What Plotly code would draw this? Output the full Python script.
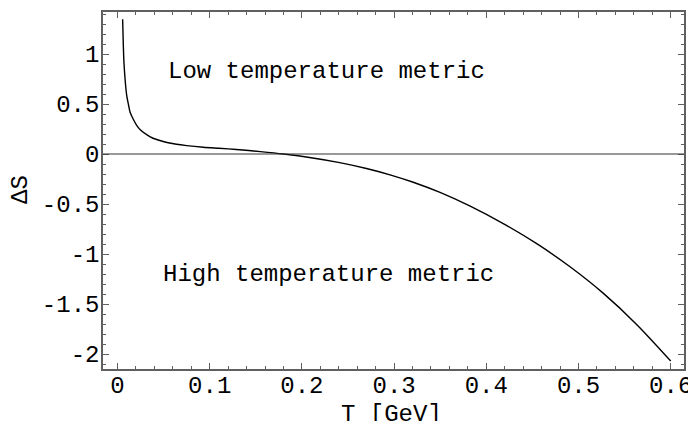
import plotly.graph_objects as go

# Data
T_GeV = [0.0056, 0.0063, 0.007, 0.0085, 0.010, 0.012, 0.0136, 0.017, 0.0208, 0.025,
         0.0317, 0.038, 0.046, 0.055, 0.064, 0.075, 0.093, 0.11, 0.129, 0.155,
         0.18, 0.21, 0.241, 0.27, 0.2956, 0.32, 0.3498, 0.382, 0.4184, 0.4547,
         0.4908, 0.527, 0.563, 0.60]
delta_S = [1.347, 1.10, 0.92, 0.72, 0.587, 0.49, 0.42, 0.35, 0.287, 0.24,
           0.193, 0.16, 0.135, 0.113, 0.097, 0.084, 0.068, 0.057, 0.045, 0.024,
           0.0, -0.037, -0.086, -0.145, -0.208, -0.280, -0.384, -0.519, -0.696, -0.897,
           -1.128, -1.394, -1.704, -2.07]

x_tickvals = [0, 0.1, 0.2, 0.3, 0.4, 0.5, 0.6]
x_ticktext = ["0", "0.1", "0.2", "0.3", "0.4", "0.5", "0.6"]
y_tickvals = [1, 0.5, 0, -0.5, -1, -1.5, -2]
y_ticktext = ["1", "0.5", "0", "-0.5", "-1", "-1.5", "-2"]

labels = ["Low temperature metric", "High temperature metric"]
label_T = [0.227, 0.229]
label_S = [0.825, -1.205]

x_title = "T [GeV]"
y_title = "ΔS"

FONT = "Courier New, Nimbus Mono PS, Liberation Mono, monospace"
FS = 24
frame_col = "#606060"

fig = go.Figure()
fig.add_trace(go.Scatter(
    x=T_GeV, y=delta_S, mode="lines",
    line=dict(color="black", width=1.4, shape="spline", smoothing=0.8),
    showlegend=False, hoverinfo="skip"))

fig.add_hline(y=0, line=dict(color="#333333", width=1.2))

for txt, tx, sy in zip(labels, label_T, label_S):
    fig.add_annotation(x=tx, y=sy, text=txt, showarrow=False,
                       font=dict(family=FONT, size=FS, color="black"),
                       xanchor="center", yanchor="middle")

fig.add_annotation(xref="paper", yref="paper", x=0.497, y=0, yshift=-45,
                   text=x_title, showarrow=False,
                   font=dict(family=FONT, size=FS, color="black"),
                   xanchor="center", yanchor="middle")
fig.add_annotation(xref="paper", yref="y", x=0, xshift=-83, y=-0.36,
                   text=y_title, showarrow=False, textangle=-90,
                   font=dict(family=FONT, size=FS, color="black"),
                   xanchor="center", yanchor="middle")

axis_common = dict(
    showgrid=False, zeroline=False, showline=True, linecolor=frame_col,
    linewidth=1.5, mirror="ticks", ticks="inside", ticklen=6, tickwidth=1,
    tickcolor=frame_col, tickfont=dict(family=FONT, size=FS, color="black"),
    automargin=False, ticklabeloverflow="allow",
)

fig.update_xaxes(range=[-0.0157, 0.6144], tickvals=x_tickvals, ticktext=x_ticktext,
                 minor=dict(ticks="inside", ticklen=3, dtick=0.02, tick0=0,
                            tickcolor=frame_col, showgrid=False),
                 ticklabelstandoff=-7,
                 **axis_common)
fig.update_yaxes(range=[-2.15, 1.42], tickvals=y_tickvals, ticktext=y_ticktext,
                 minor=dict(ticks="inside", ticklen=3, dtick=0.1, tick0=0,
                            tickcolor=frame_col, showgrid=False),
                 ticklabelstandoff=-3,
                 **axis_common)

fig.update_layout(
    width=688, height=421,
    margin=dict(l=103, r=4, t=12, b=52),
    plot_bgcolor="white", paper_bgcolor="white",
)

fig.write_html("out.html", config={"displayModeBar": False},
               post_script="document.body.style.margin='0px';document.body.style.overflow='hidden';")
